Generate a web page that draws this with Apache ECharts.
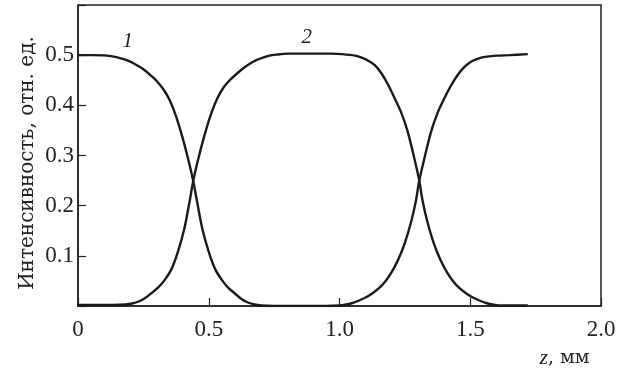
<!DOCTYPE html>
<html>
<head>
<meta charset="utf-8">
<script src="https://cdn.jsdelivr.net/npm/echarts@6/dist/echarts.min.js"></script>
<style>html,body{margin:0;padding:0;background:#fff}#c{width:632px;height:369px}</style>
</head>
<body>
<div id="c"></div>
<script>
// Curve 1 (z, intensity)
var z1 = [0, 0.05, 0.10, 0.125, 0.15, 0.175, 0.20, 0.225, 0.25, 0.275, 0.30, 0.325, 0.35, 0.375, 0.40, 0.425, 0.441, 0.454, 0.475, 0.50, 0.525, 0.55, 0.575, 0.60, 0.625, 0.65, 0.675, 0.70, 0.75, 0.85, 0.95, 1.00, 1.025, 1.05, 1.075, 1.10, 1.125, 1.15, 1.175, 1.20, 1.225, 1.25, 1.275, 1.293, 1.305, 1.325, 1.35, 1.375, 1.40, 1.425, 1.45, 1.475, 1.50, 1.525, 1.55, 1.60, 1.65, 1.72];
var v1 = [0.500, 0.500, 0.4995, 0.498, 0.4955, 0.492, 0.487, 0.480, 0.472, 0.461, 0.449, 0.433, 0.411, 0.378, 0.335, 0.285, 0.248, 0.212, 0.155, 0.108, 0.073, 0.052, 0.036, 0.025, 0.014, 0.007, 0.003, 0.001, 0.000, 0.000, 0.000, 0.001, 0.003, 0.006, 0.011, 0.017, 0.025, 0.035, 0.049, 0.068, 0.093, 0.126, 0.170, 0.212, 0.250, 0.295, 0.347, 0.385, 0.413, 0.438, 0.459, 0.475, 0.486, 0.492, 0.496, 0.499, 0.500, 0.502];
// Curve 2 (z, intensity)
var z2 = [0, 0.05, 0.10, 0.132, 0.182, 0.207, 0.232, 0.257, 0.282, 0.307, 0.332, 0.357, 0.382, 0.407, 0.428, 0.441, 0.457, 0.482, 0.507, 0.532, 0.557, 0.582, 0.607, 0.632, 0.657, 0.682, 0.707, 0.732, 0.757, 0.80, 0.90, 0.97, 1.01, 1.06, 1.085, 1.11, 1.135, 1.16, 1.185, 1.21, 1.235, 1.26, 1.285, 1.305, 1.317, 1.335, 1.36, 1.385, 1.41, 1.435, 1.46, 1.485, 1.51, 1.535, 1.56, 1.585, 1.61, 1.66, 1.72];
var v2 = [0.002, 0.002, 0.002, 0.002, 0.003, 0.005, 0.009, 0.016, 0.026, 0.037, 0.052, 0.073, 0.108, 0.155, 0.212, 0.250, 0.287, 0.337, 0.380, 0.413, 0.436, 0.451, 0.463, 0.474, 0.483, 0.490, 0.495, 0.499, 0.501, 0.503, 0.503, 0.503, 0.502, 0.499, 0.495, 0.489, 0.480, 0.464, 0.442, 0.415, 0.387, 0.349, 0.297, 0.250, 0.212, 0.170, 0.126, 0.093, 0.068, 0.049, 0.035, 0.025, 0.017, 0.011, 0.006, 0.003, 0.001, 0.001, 0.001];
var xTickLabels = ['0', '0.5', '1.0', '1.5', '2.0'];
var yTickLabels = ['', '0.1', '0.2', '0.3', '0.4', '0.5', ''];
var curveNames = ['1', '2'];
var curveLabelPos = [[0.19, 0.528], [0.875, 0.536]];

var FONT = '"Liberation Serif", "DejaVu Serif", serif';
var FONT2 = '"DejaVu Serif", serif';
var TXT = '#222';
function pairs(zs, ys) { return zs.map(function (z, i) { return [z, ys[i]]; }); }

var chart = echarts.init(document.getElementById('c'), null, { renderer: 'canvas' });
var lineStyle = { color: '#1a1a1a', width: 2.4 };
var series = [[z1, v1], [z2, v2]].map(function (cv, k) {
  return {
    type: 'line', name: curveNames[k], data: pairs(cv[0], cv[1]), smooth: 0.3, showSymbol: false,
    lineStyle: lineStyle, animation: false,
    markPoint: {
      symbol: 'circle', symbolSize: 0,
      label: { show: true, formatter: curveNames[k], fontFamily: FONT, fontStyle: 'italic', fontSize: 21, color: TXT },
      data: [{ coord: curveLabelPos[k] }]
    }
  };
});
chart.setOption({
  animation: false,
  grid: { left: 78, right: 31, top: 5, bottom: 63, show: true, borderColor: '#222', borderWidth: 1.5, backgroundColor: 'transparent' },
  xAxis: {
    type: 'value', min: 0, max: 2, interval: 0.5,
    axisLine: { show: true, lineStyle: { color: '#222', width: 1.5 } },
    axisTick: { show: true, inside: true, length: 8, lineStyle: { color: '#222', width: 1.2 } },
    splitLine: { show: false },
    axisLabel: { margin: 12, fontFamily: FONT, fontSize: 23, color: TXT,
      formatter: function (v) { return xTickLabels[Math.round(v / 0.5)]; } }
  },
  yAxis: {
    type: 'value', min: 0, max: 0.6, interval: 0.1,
    axisLine: { show: true, lineStyle: { color: '#222', width: 1.5 } },
    axisTick: { show: true, inside: true, length: 8, lineStyle: { color: '#222', width: 1.2 } },
    splitLine: { show: false },
    axisLabel: { margin: 4, fontFamily: FONT, fontSize: 23, color: TXT,
      formatter: function (v) { return yTickLabels[Math.round(v / 0.1)]; } }
  },
  graphic: [
    { type: 'text', x: 28, y: 163, rotation: Math.PI / 2,
      style: { text: 'Интенсивность, отн. ед.', font: '20px ' + FONT2, fill: TXT, align: 'center', verticalAlign: 'middle' } },
    { type: 'text', x: 548, y: 358,
      style: { text: 'z', font: 'italic 22px "Liberation Serif", serif', fill: TXT, align: 'right', verticalAlign: 'middle' } },
    { type: 'text', x: 548, y: 358,
      style: { text: ', мм', font: '19px ' + FONT2, fill: TXT, align: 'left', verticalAlign: 'middle' } }
  ],
  series: series
});
</script>
</body>
</html>
